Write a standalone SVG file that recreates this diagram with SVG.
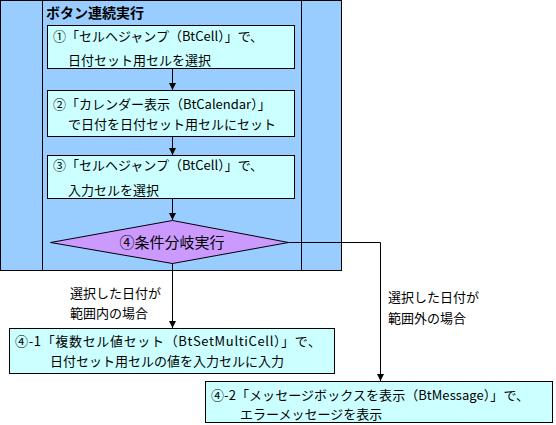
<svg xmlns="http://www.w3.org/2000/svg" width="556" height="425" viewBox="0 0 556 425">
<defs>
<style>
text{font-family:"Noto Sans CJK JP","Noto Sans CJK SC",sans-serif;font-size:13px;fill:#000}
.box{fill:#CCFFFF;stroke:#000;stroke-width:1}
.ln{stroke:#000;stroke-width:1;fill:none}
.title{font-weight:bold;font-size:14px}
</style>
<marker id="ah" markerWidth="8" markerHeight="8" refX="7" refY="4" orient="auto" markerUnits="userSpaceOnUse">
<path d="M0,0.5 L7,4 L0,7.5 Z" fill="#000"/>
</marker>
</defs>
<g id="lane">
<rect x="0.5" y="0.5" width="341" height="270" fill="#99CCFF" stroke="#000"/>
<line class="ln" x1="42.5" y1="0.5" x2="42.5" y2="270.5"/>
<line class="ln" x1="301.5" y1="0.5" x2="301.5" y2="270.5"/>
<text class="title" x="46" y="18">ボタン連続実行</text>
</g>
<g id="step1">
<rect class="box" x="47.5" y="25.5" width="247" height="43"/>
<text x="53" y="41">①「セルヘジャンプ（BtCell）」で、</text>
<text x="68" y="65">日付セット用セルを選択</text>
</g>
<g id="step2">
<rect class="box" x="47.5" y="90.5" width="247" height="46"/>
<text x="53" y="109">②「カレンダー表示（BtCalendar）」</text>
<text x="68" y="129">で日付を日付セット用セルにセット</text>
</g>
<g id="step3">
<rect class="box" x="47.5" y="155.5" width="247" height="43"/>
<text x="53" y="170">③「セルヘジャンプ（BtCell）」で、</text>
<text x="68" y="195">入力セルを選択</text>
</g>
<g id="decision">
<polygon points="172.5,220.5 288.5,242.5 172.5,263.5 50.5,242.5" fill="#CC99FF" stroke="#000"/>
<text x="172" y="248" text-anchor="middle" style="font-size:15px">④条件分岐実行</text>
</g>
<g id="step4-1">
<rect class="box" x="9.5" y="328.5" width="325" height="45"/>
<text x="15" y="346" textLength="306" lengthAdjust="spacing">④-1「複数セル値セット（BtSetMultiCell）」で、</text>
<text x="50" y="366">日付セット用セルの値を入力セルに入力</text>
</g>
<g id="step4-2">
<rect class="box" x="205.5" y="381.5" width="347" height="41"/>
<text x="211" y="400" textLength="318" lengthAdjust="spacing">④-2「メッセージボックスを表示（BtMessage）」で、</text>
<text x="240" y="419">エラーメッセージを表示</text>
</g>
<g id="connectors">
<line class="ln" x1="172.5" y1="68.5" x2="172.5" y2="90" marker-end="url(#ah)"/>
<line class="ln" x1="172.5" y1="136.5" x2="172.5" y2="155" marker-end="url(#ah)"/>
<line class="ln" x1="172.5" y1="198.5" x2="172.5" y2="220" marker-end="url(#ah)"/>
<line class="ln" x1="172.5" y1="263.5" x2="172.5" y2="328" marker-end="url(#ah)"/>
<polyline class="ln" points="288.5,242.5 380.5,242.5 380.5,381" marker-end="url(#ah)"/>
<text x="70" y="298">選択した日付が</text>
<text x="70" y="318">範囲内の場合</text>
<text x="388" y="302">選択した日付が</text>
<text x="388" y="323">範囲外の場合</text>
</g>
</svg>
